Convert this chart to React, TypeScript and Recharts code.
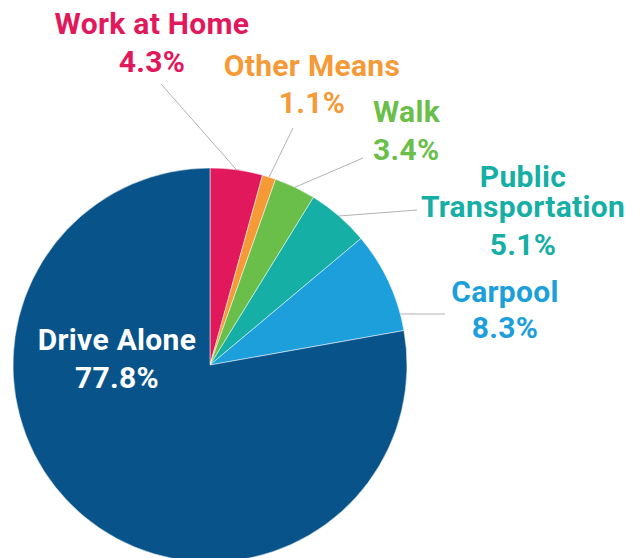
import { Pie, PieChart, Cell } from "recharts";

const modes = ["Work at Home", "Other Means", "Walk", "Public Transportation", "Carpool", "Drive Alone"];
const shares = [4.3, 1.1, 3.4, 5.1, 8.3, 77.8];
const colors = ["#E1185B", "#F59A36", "#6ABF4B", "#16AFA6", "#1C9FDB", "#08548A"];

// label placement, offsets from the pie centre
const labelLayout: Record<string, { x: number; lines: number[]; anchor: string; end?: [number, number]; flat?: boolean }> = {
  "Work at Home": { x: -58, lines: [-331, -293], anchor: "middle", end: [-49, -281] },
  "Other Means": { x: 102, lines: [-289, -252], anchor: "middle", end: [83, -237] },
  Walk: { x: 163, lines: [-243, -205], anchor: "start", end: [153, -207] },
  "Public Transportation": { x: 313, lines: [-178, -148, -110], anchor: "middle", end: [207, -155] },
  Carpool: { x: 295, lines: [-63, -27], anchor: "middle", end: [235, -51], flat: true },
  "Drive Alone": { x: -93, lines: [-15, 23], anchor: "middle" },
};

const data = modes.map((name, i) => ({ name, value: shares[i] }));

const RADIAN = Math.PI / 180;

function renderLabel(props: any) {
  const { cx, cy, midAngle, outerRadius, index } = props;
  const name = modes[index];
  const layout = labelLayout[name];
  const color = name === "Drive Alone" ? "#ffffff" : colors[index];
  const words = name === "Public Transportation" ? ["Public", "Transportation"] : [name];
  const texts = [...words, `${shares[index].toFixed(1)}%`];

  let line = null;
  if (layout.end) {
    const ex = cx + layout.end[0];
    const ey = cy + layout.end[1];
    let sx: number;
    let sy: number;
    if (layout.flat) {
      sy = ey;
      sx = cx + Math.sqrt(outerRadius * outerRadius - (ey - cy) * (ey - cy));
    } else {
      sx = cx + outerRadius * Math.cos(-midAngle * RADIAN);
      sy = cy + outerRadius * Math.sin(-midAngle * RADIAN);
    }
    line = <line x1={sx} y1={sy} x2={ex} y2={ey} stroke="#b3b3b3" strokeWidth={1} />;
  }

  return (
    <g key={name}>
      {line}
      {texts.map((t, i) => (
        <text
          key={t}
          x={cx + layout.x}
          y={cy + layout.lines[i]}
          textAnchor={layout.anchor}
          fill={color}
          fontFamily="Roboto, sans-serif"
          fontWeight={700}
          fontSize={30}
          letterSpacing={0.3}
        >
          {t}
        </text>
      ))}
    </g>
  );
}

export default function App() {
  return (
    <div style={{ position: "absolute", left: 0, top: 0, width: 642, height: 558, background: "#fff" }}>
      <PieChart width={642} height={558} margin={{ top: 0, right: 0, bottom: 0, left: 0 }}>
        <Pie
          data={data}
          dataKey="value"
          nameKey="name"
          cx={210}
          cy={365}
          outerRadius={197}
          startAngle={90}
          endAngle={-270}
          stroke="#ffffff"
          strokeWidth={0.5}
          label={renderLabel}
          labelLine={false}
          isAnimationActive={false}
        >
          {data.map((d, i) => (
            <Cell key={d.name} fill={colors[i]} />
          ))}
        </Pie>
      </PieChart>
    </div>
  );
}
